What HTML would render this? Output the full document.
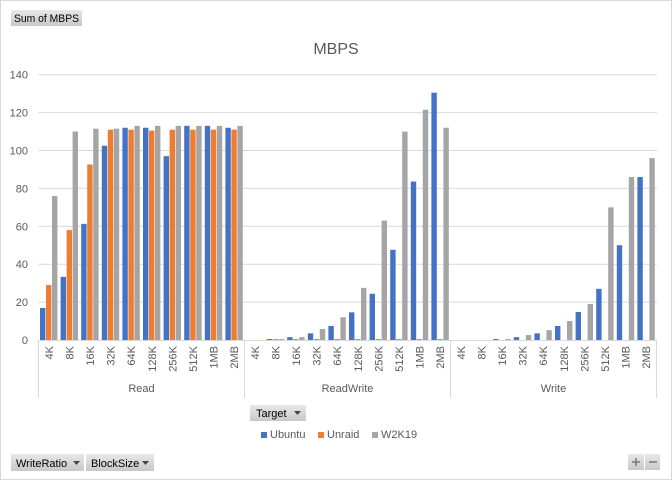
<!DOCTYPE html>
<html><head><meta charset="utf-8"><style>
body{margin:0;background:#fff;}
svg{display:block;font-family:"Liberation Sans",sans-serif;}
</style></head><body>
<svg id="s" width="672" height="480" xmlns="http://www.w3.org/2000/svg">
<rect x="0.5" y="0.5" width="671" height="479" fill="#fff" stroke="#d9d9d9"/>
<defs><linearGradient id="g" x1="0" y1="0" x2="0" y2="1"><stop offset="0" stop-color="#e8e8e8"/><stop offset="1" stop-color="#c8c8c8"/></linearGradient></defs>
<rect x="11" y="10" width="71" height="16" fill="url(#g)"/>
<text x="14" y="22" font-size="11" fill="#000" textLength="65" lengthAdjust="spacingAndGlyphs">Sum of MBPS</text>
<text x="336" y="54" font-size="16" fill="#595959" text-anchor="middle">MBPS</text>
<g id="grid" stroke="#d9d9d9" stroke-width="1"></g>
<g id="bars"></g>
<g id="lbl" font-size="11" fill="#595959"></g>
<rect x="250" y="405" width="56" height="16" fill="url(#g)"/>
<text x="256" y="417" font-size="11" fill="#000">Target</text>
<path d="M294 411h7l-3.5 4z" fill="#444"/>
<rect x="261" y="432" width="6" height="6" fill="#4472c4"/>
<text x="270" y="438" font-size="11" fill="#595959">Ubuntu</text>
<rect x="318" y="432" width="6" height="6" fill="#ed7d31"/>
<text x="327" y="438" font-size="11" fill="#595959">Unraid</text>
<rect x="372" y="432" width="6" height="6" fill="#a5a5a5"/>
<text x="381" y="438" font-size="11" fill="#595959">W2K19</text>
<rect x="11" y="454" width="73" height="17" fill="url(#g)"/>
<text x="16" y="467" font-size="11" fill="#000">WriteRatio</text>
<path d="M73 461h7l-3.5 4z" fill="#444"/>
<rect x="86" y="454" width="68" height="17" fill="url(#g)"/>
<text x="91" y="467" font-size="11" fill="#000">BlockSize</text>
<path d="M142 461h7l-3.5 4z" fill="#444"/>
<rect x="628" y="454" width="16" height="16" fill="url(#g)"/>
<path d="M632 462h8M636 458v8" stroke="#777" stroke-width="1.5"/>
<rect x="645" y="454" width="15" height="16" fill="url(#g)"/>
<path d="M649 462h8" stroke="#777" stroke-width="1.5"/>
</svg>
<script>
var NS="http://www.w3.org/2000/svg";
function el(p,t,a,txt){var e=document.createElementNS(NS,t);for(var k in a)e.setAttribute(k,a[k]);if(txt!=null)e.textContent=txt;document.getElementById(p).appendChild(e);}
var y0=340,k=1.895,L=38.5,R=657,cw=20.6;
for(var v=0;v<=140;v+=20){var y=y0-v*k;if(v>0)el("grid","line",{x1:L,x2:R,y1:y,y2:y});el("lbl","text",{x:28,y:y+4,"text-anchor":"end"},v);}
el("grid","line",{x1:L,x2:R,y1:y0+0.5,y2:y0+0.5});
[0,10,20,30].forEach(function(i){var x=L+i*cw;el("grid","line",{x1:x,x2:x,y1:y0,y2:398});});
var cats=["4K","8K","16K","32K","64K","128K","256K","512K","1MB","2MB"];
var data=[
[[16.9,29,76],[33.3,58,110],[61.3,92.6,111.5],[102.5,111,111.5],[112,111,113],[112,110.5,113],[97,111,113],[113,111,113],[113,111,113],[112,111,113]],
[[0,0,0],[0.5,0.5,0.5],[1.5,0.5,1.5],[3.5,0.5,5.8],[7.4,0.5,12],[14.6,0.5,27.5],[24.4,0.5,63],[47.6,0.5,110],[83.6,0.5,121.5],[130.5,0.5,112]],
[[0,0,0],[0,0,0],[0.5,0,0.5],[1.5,0,2.6],[3.5,0,5.2],[7.4,0,10],[14.8,0,19],[27,0,70],[50,0,86],[86,0,96]]];
var cols=["#4472c4","#ed7d31","#a5a5a5"],offs=[1.5,7.5,13.5];
var groups=["Read","ReadWrite","Write"];
for(var g=0;g<3;g++){for(var c=0;c<10;c++){var i=g*10+c,s=L+i*cw;
for(var b=0;b<3;b++){var h=data[g][c][b]*k;if(h>0)el("bars","rect",{x:s+offs[b],y:y0-h,width:5.4,height:h,fill:cols[b]});}
var cx=s+cw/2+4;el("lbl","text",{x:cx,y:346,"text-anchor":"end",transform:"rotate(-90 "+cx+" 346)"},cats[c]);}
el("lbl","text",{x:L+(g*10+5)*cw,y:392,"text-anchor":"middle"},groups[g]);}
</script>
</body></html>
